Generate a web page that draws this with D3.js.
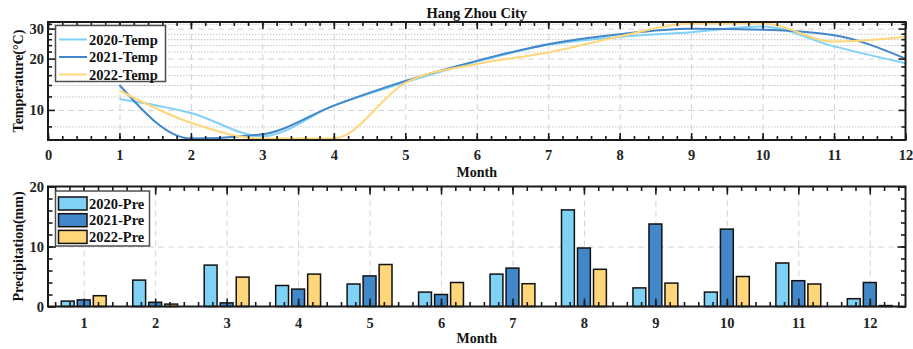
<!DOCTYPE html>
<html>
<head>
<meta charset="utf-8">
<script src="https://cdn.jsdelivr.net/npm/d3@7"></script>
<style>
  body { margin: 0; background: #fff; }
  text { font-family: "Liberation Serif", "Times New Roman", serif; font-weight: bold; }
</style>
</head>
<body>
<div class="chart"></div>
<script>
// Chart data
var months = [1, 2, 3, 4, 5, 6, 7, 8, 9, 10, 11, 12];
var temp2020 = [11.6, 9.6, 7.0, 10.6, 14.5, 19.2, 24.1, 26.8, 28.6, 30.9, 23.6, 18.8];
var temp2021 = [14.0, 6.0, 7.2, 10.6, 14.8, 19.4, 24.3, 27.8, 29.9, 29.5, 27.4, 20.0];
var temp2022 = [13.0, 8.4, 6.2, 6.2, 14.4, 18.6, 21.7, 27.0, 34.0, 34.0, 25.2, 26.8];
var pre2020 = [0.9, 4.4, 6.9, 3.5, 3.75, 2.4, 5.4, 16.1, 3.1, 2.4, 7.25, 1.3];
var pre2021 = [1.1, 0.7, 0.6, 2.9, 5.1, 2.0, 6.4, 9.75, 13.75, 12.9, 4.3, 4.0];
var pre2022 = [1.8, 0.4, 4.9, 5.4, 7.0, 4.0, 3.8, 6.2, 3.9, 5.0, 3.75, 0.15];
var tempNames = ["2020-Temp", "2021-Temp", "2022-Temp"];
var preNames = ["2020-Pre", "2021-Pre", "2022-Pre"];
var colors = ["#7fd2f6", "#4287c9", "#ffd67a"];
var tempXTicks = d3.range(0, 13);
var tempYTicks = [10, 20, 30];
var tempYMinor = [8, 12, 14, 16, 18, 22, 24, 26, 28, 32];
var preYTicks = [0, 10, 20];

var svgWidth = 913;
var svgHeight = 349;
var fontSize = "14.5px";

var svg = d3.select(".chart")
  .append("svg")
  .attr("width", svgWidth)
  .attr("height", svgHeight);

// Scales
var top1 = 22, bottom1 = 140, left = 48, right = 905.5;
var top2 = 186.5, bottom2 = 306.5;

var xTemp = d3.scaleLinear().domain([0, 12]).range([left, right]);
var yTemp = d3.scaleLog().domain([6.66, 32.8]).range([bottom1, top1]);
var xPre = d3.scaleLinear().domain([0.5, 12.5]).range([left, right]);
var yPre = d3.scaleLinear().domain([0, 20]).range([bottom2, top2]);

function styleAxis(g) {
  g.select(".domain").remove();
  g.selectAll("line").attr("stroke", "#1a1a1a").attr("stroke-width", 1.6);
  g.selectAll("text")
    .attr("fill", "#222")
    .style("font-size", fontSize)
    .style("font-family", "'Liberation Serif', 'Times New Roman', serif")
    .style("font-weight", "bold");
}

function gridStyle(g, dash, color) {
  g.select(".domain").remove();
  g.selectAll("line").attr("stroke", color).attr("stroke-width", 1).attr("stroke-dasharray", dash);
}

// ============ Top chart: temperature ============
var w1 = right - left, h1 = bottom1 - top1;

// grid
svg.append("g")
  .attr("transform", `translate(0, ${bottom1})`)
  .call(d3.axisBottom(xTemp).tickValues(d3.range(1, 12)).tickSize(-h1).tickFormat(""))
  .call(g => gridStyle(g, "6,4", "#d4d4d4"));
svg.append("g")
  .attr("transform", `translate(${left}, 0)`)
  .call(d3.axisLeft(yTemp).tickValues(tempYMinor.filter(v => v < 32.8)).tickSize(-w1).tickFormat(""))
  .call(g => gridStyle(g, "1.5,1.5", "#c4c4c4"));
svg.append("g")
  .attr("transform", `translate(${left}, 0)`)
  .call(d3.axisLeft(yTemp).tickValues(tempYTicks).tickSize(-w1).tickFormat(""))
  .call(g => gridStyle(g, "6,4", "#d4d4d4"));

// lines: values beyond the axis limits run along the box edge
var tempSeries = [temp2020, temp2021, temp2022];
var line = d3.line()
  .x((d, i) => xTemp(months[i]))
  .y(d => Math.max(top1 + 1.5, Math.min(bottom1 - 1.5, yTemp(d))))
  .curve(d3.curveMonotoneX);

svg.append("g")
  .selectAll("path")
  .data(tempSeries)
  .enter()
  .append("path")
  .attr("d", line)
  .attr("fill", "none")
  .attr("stroke", (d, i) => colors[i])
  .attr("stroke-width", 2);

// axes (inward ticks on all sides)
svg.append("g")
  .attr("transform", `translate(0, ${bottom1})`)
  .call(d3.axisBottom(xTemp).tickValues(d3.range(0, 12.01, 0.2)).tickSize(-4).tickFormat(""))
  .call(styleAxis);
svg.append("g")
  .attr("transform", `translate(0, ${bottom1})`)
  .call(d3.axisBottom(xTemp).tickValues(tempXTicks).tickSizeInner(-7).tickSizeOuter(0).tickFormat(d3.format("d")))
  .call(styleAxis)
  .call(g => g.selectAll("text").attr("y", 10).attr("dy", "0.71em"));
svg.append("g")
  .attr("transform", `translate(0, ${top1})`)
  .call(d3.axisTop(xTemp).tickValues(d3.range(0, 12.01, 0.2)).tickSize(-4).tickFormat(""))
  .call(styleAxis);
svg.append("g")
  .attr("transform", `translate(0, ${top1})`)
  .call(d3.axisTop(xTemp).tickValues(tempXTicks).tickSize(-7).tickFormat(""))
  .call(styleAxis);
svg.append("g")
  .attr("transform", `translate(${left}, 0)`)
  .call(d3.axisLeft(yTemp).tickValues(tempYMinor).tickSize(-4).tickFormat(""))
  .call(styleAxis);
svg.append("g")
  .attr("transform", `translate(${left}, 0)`)
  .call(d3.axisLeft(yTemp).tickValues(tempYTicks).tickSizeInner(-7).tickSizeOuter(0).tickPadding(4).tickFormat(d3.format("d")))
  .call(styleAxis);
svg.append("g")
  .attr("transform", `translate(${right}, 0)`)
  .call(d3.axisRight(yTemp).tickValues(tempYMinor).tickSize(-4).tickFormat(""))
  .call(styleAxis);
svg.append("g")
  .attr("transform", `translate(${right}, 0)`)
  .call(d3.axisRight(yTemp).tickValues(tempYTicks).tickSize(-7).tickFormat(""))
  .call(styleAxis);

svg.append("rect")
  .attr("x", left).attr("y", top1).attr("width", w1).attr("height", h1)
  .attr("fill", "none").attr("stroke", "#1a1a1a").attr("stroke-width", 2);

// legend
var leg1 = svg.append("g");
leg1.append("rect")
  .attr("x", 55.5).attr("y", 25.5).attr("width", 110).attr("height", 56)
  .attr("fill", "#fff").attr("stroke", "#4d4d4d").attr("stroke-width", 1.5);
tempNames.forEach(function(name, i) {
  var ly = 39.5 + i * 17.5;
  leg1.append("line")
    .attr("x1", 59).attr("x2", 87).attr("y1", ly).attr("y2", ly)
    .attr("stroke", colors[i]).attr("stroke-width", 2);
  leg1.append("text")
    .attr("x", 89).attr("y", ly).attr("dy", "0.35em")
    .style("font-size", fontSize).attr("fill", "#111")
    .text(name);
});

// titles
svg.append("text")
  .attr("x", (left + right) / 2).attr("y", 17.5)
  .attr("text-anchor", "middle")
  .style("font-size", fontSize).attr("fill", "#111")
  .text("Hang Zhou City");
svg.append("text")
  .attr("x", (left + right) / 2).attr("y", 177)
  .attr("text-anchor", "middle")
  .style("font-size", "14px").attr("fill", "#111")
  .text("Month");
svg.append("text")
  .attr("transform", `translate(23, ${(top1 + bottom1) / 2}) rotate(-90)`)
  .attr("text-anchor", "middle")
  .style("font-size", "14px").attr("fill", "#111")
  .text("Temperature(°C)");

// ============ Bottom chart: precipitation ============
var h2 = bottom2 - top2;

svg.append("g")
  .attr("transform", `translate(0, ${bottom2})`)
  .call(d3.axisBottom(xPre).tickValues(months).tickSize(-h2).tickFormat(""))
  .call(g => gridStyle(g, "6,4", "#d4d4d4"));
svg.append("g")
  .attr("transform", `translate(${left}, 0)`)
  .call(d3.axisLeft(yPre).tickValues([10]).tickSize(-w1).tickFormat(""))
  .call(g => gridStyle(g, "6,4", "#d4d4d4"));

// bars
var preSeries = [pre2020, pre2021, pre2022];
var barOffset = 0.224, barWidth = 0.18;
preSeries.forEach(function(series, j) {
  svg.append("g")
    .selectAll("rect")
    .data(series)
    .enter()
    .append("rect")
    .attr("x", (d, i) => xPre(months[i] + (j - 1) * barOffset - barWidth / 2))
    .attr("width", xPre(barWidth) - xPre(0))
    .attr("y", d => yPre(d))
    .attr("height", d => yPre(0) - yPre(d))
    .attr("fill", colors[j])
    .attr("stroke", "#111")
    .attr("stroke-width", 1.5);
});

svg.append("g")
  .attr("transform", `translate(0, ${bottom2})`)
  .call(d3.axisBottom(xPre).tickValues(d3.range(0.6, 12.5, 0.2)).tickSize(-4.5).tickFormat(""))
  .call(styleAxis);
svg.append("g")
  .attr("transform", `translate(0, ${bottom2})`)
  .call(d3.axisBottom(xPre).tickValues(months).tickSizeInner(-8).tickSizeOuter(0).tickFormat(d3.format("d")))
  .call(styleAxis)
  .call(g => g.selectAll("text").attr("y", 11).attr("dy", "0.71em"));
svg.append("g")
  .attr("transform", `translate(0, ${top2})`)
  .call(d3.axisTop(xPre).tickValues(d3.range(0.6, 12.5, 0.2)).tickSize(-4.5).tickFormat(""))
  .call(styleAxis);
svg.append("g")
  .attr("transform", `translate(0, ${top2})`)
  .call(d3.axisTop(xPre).tickValues(months).tickSize(-8).tickFormat(""))
  .call(styleAxis);
svg.append("g")
  .attr("transform", `translate(${left}, 0)`)
  .call(d3.axisLeft(yPre).tickValues(d3.range(0, 21, 2)).tickSize(-4.5).tickFormat(""))
  .call(styleAxis);
svg.append("g")
  .attr("transform", `translate(${left}, 0)`)
  .call(d3.axisLeft(yPre).tickValues(preYTicks).tickSizeInner(-8).tickSizeOuter(0).tickPadding(4).tickFormat(d3.format("d")))
  .call(styleAxis);
svg.append("g")
  .attr("transform", `translate(${right}, 0)`)
  .call(d3.axisRight(yPre).tickValues(d3.range(0, 21, 2)).tickSize(-4.5).tickFormat(""))
  .call(styleAxis);
svg.append("g")
  .attr("transform", `translate(${right}, 0)`)
  .call(d3.axisRight(yPre).tickValues(preYTicks).tickSize(-8).tickFormat(""))
  .call(styleAxis);

svg.append("rect")
  .attr("x", left).attr("y", top2).attr("width", w1).attr("height", h2)
  .attr("fill", "none").attr("stroke", "#1a1a1a").attr("stroke-width", 2);

// legend
var leg2 = svg.append("g");
leg2.append("rect")
  .attr("x", 55.5).attr("y", 191).attr("width", 94).attr("height", 55)
  .attr("fill", "#fff").attr("stroke", "#4d4d4d").attr("stroke-width", 1.5);
preNames.forEach(function(name, i) {
  var ly = 203.5 + i * 16.7;
  leg2.append("rect")
    .attr("x", 58.5).attr("y", ly - 6.5).attr("width", 28.5).attr("height", 13)
    .attr("fill", colors[i]).attr("stroke", "#111").attr("stroke-width", 1.5);
  leg2.append("text")
    .attr("x", 89).attr("y", ly).attr("dy", "0.35em")
    .style("font-size", fontSize).attr("fill", "#111")
    .text(name);
});

svg.append("text")
  .attr("x", (left + right) / 2).attr("y", 343)
  .attr("text-anchor", "middle")
  .style("font-size", "14px").attr("fill", "#111")
  .text("Month");
svg.append("text")
  .attr("transform", `translate(23, ${(top2 + bottom2) / 2}) rotate(-90)`)
  .attr("text-anchor", "middle")
  .style("font-size", "14px").attr("fill", "#111")
  .text("Precipitation(mm)");
</script>
</body>
</html>
